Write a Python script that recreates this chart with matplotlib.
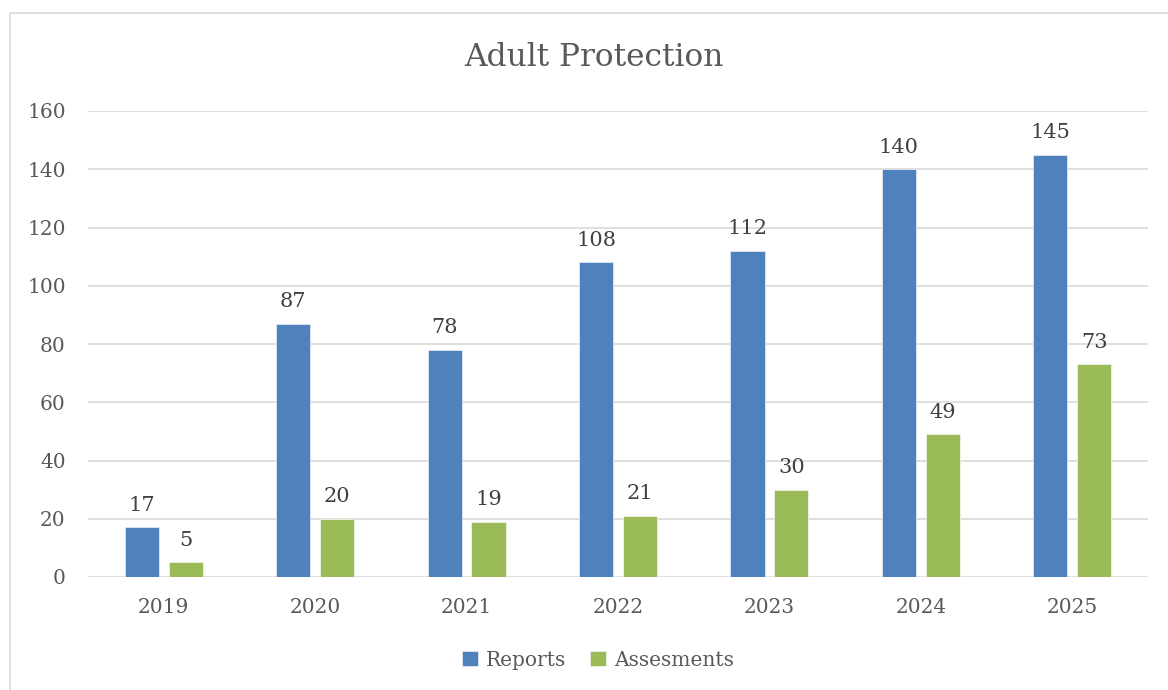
import matplotlib.pyplot as plt
import matplotlib.patches as mpatches
import numpy as np

# Chart data
years = ['2019', '2020', '2021', '2022', '2023', '2024', '2025']
reports = [17, 87, 78, 108, 112, 140, 145]
assessments = [5, 20, 19, 21, 30, 49, 73]

blue = '#4F81BD'
green = '#9BBB59'
text_col = '#595959'
grid_col = '#D9D9D9'

plt.rcParams['font.family'] = ['DejaVu Serif']

fig = plt.figure(figsize=(11.68, 6.9), dpi=100)
ax = fig.add_axes([88 / 1168, 1 - 577 / 690, (1148 - 88) / 1168, (577 - 111) / 690])

x = np.arange(len(years))
w = 0.225
off = 0.145
b1 = ax.bar(x - off, reports, w, color=blue, edgecolor='#dfe8f3', linewidth=0.6, label='Reports', zorder=3)
b2 = ax.bar(x + off, assessments, w, color=green, edgecolor='#eef3e4', linewidth=0.6, label='Assesments', zorder=3)

# Value labels above the bars
for bars in (b1, b2):
    ax.bar_label(bars, padding=9, fontsize=15, color='#404040')

ax.set_xlim(-0.5, len(years) - 0.5)
ax.set_ylim(0, 160)
ax.set_yticks(range(0, 161, 20))
ax.set_xticks(x)
ax.set_xticklabels(years)
ax.tick_params(axis='both', length=0, labelsize=14.5, colors=text_col)
ax.tick_params(axis='y', pad=16)
ax.tick_params(axis='x', pad=15)
ax.grid(axis='y', color=grid_col, linewidth=1.2, zorder=0)
for s in ax.spines.values():
    s.set_visible(False)

fig.text(0.508, 1 - 58 / 690, 'Adult Protection', ha='center', va='center', fontsize=22.5, color=text_col)

# Outer chart border (left and top edges visible)
fig.patches.append(mpatches.Rectangle((10 / 1168, -0.1), 2, 1 - 13 / 690 + 0.1, transform=fig.transFigure,
                                      fill=False, edgecolor=grid_col, linewidth=1.2))

fig.legend(handles=[b1, b2], loc='center', bbox_to_anchor=(0.512, 1 - 660 / 690), ncol=2, frameon=False,
           fontsize=14.5, labelcolor=text_col, handlelength=0.8, handleheight=0.8, handletextpad=0.4, columnspacing=1.2)

fig.savefig('out.png', dpi=100)
